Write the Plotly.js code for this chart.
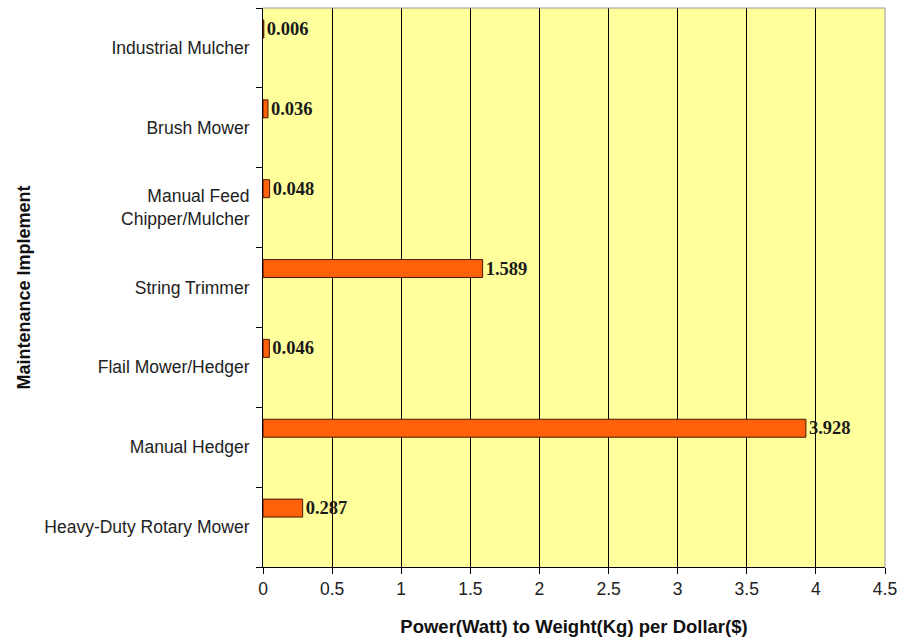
<!DOCTYPE html>
<html>
<head>
<meta charset="utf-8">
<script src="https://cdn.plot.ly/plotly-3.0.1.min.js"></script>
<style>html,body{margin:0;padding:0;background:#fff;}#chart{width:899px;height:637px;}</style>
</head>
<body>
<div id="chart"></div>
<script>
const categories = [
  "Heavy-Duty Rotary Mower",
  "Manual Hedger",
  "Flail Mower/Hedger",
  "String Trimmer",
  "Manual Feed<br>Chipper/Mulcher",
  "Brush Mower",
  "Industrial Mulcher"
];
const values = [0.287, 3.928, 0.046, 1.589, 0.048, 0.036, 0.006];
const labels = ["0.287", "3.928", "0.046", "1.589", "0.048", "0.036", "0.006"];
const xTicks = [0, 0.5, 1, 1.5, 2, 2.5, 3, 3.5, 4, 4.5];
const xTickText = ["0", "0.5", "1", "1.5", "2", "2.5", "3", "3.5", "4", "4.5"];

const trace = {
  type: "bar",
  orientation: "h",
  y: categories,
  x: values,
  text: labels,
  textposition: "outside",
  constraintext: "none",
  cliponaxis: false,
  textfont: {family: "Liberation Serif", size: 18.5, color: "#1a1a1a", weight: "bold"},
  width: 0.225,
  offset: 0.125,
  marker: {color: "#FF600A", line: {color: "#4a1800", width: 1}},
  hoverinfo: "none"
};

const layout = {
  width: 899,
  height: 637,
  margin: {l: 263, r: 14, t: 8, b: 70},
  paper_bgcolor: "#ffffff",
  plot_bgcolor: "#FFFF9C",
  showlegend: false,
  xaxis: {
    range: [0, 4.5],
    tickvals: xTicks,
    ticktext: xTickText,
    showgrid: true,
    gridcolor: "#000000",
    gridwidth: 1,
    zeroline: false,
    showline: true,
    linecolor: "#000000",
    linewidth: 1,
    ticks: "outside",
    ticklen: 6,
    tickcolor: "#000000",
    tickfont: {family: "Liberation Sans", size: 17.5, color: "#222"},
    title: {text: "Power(Watt) to Weight(Kg) per Dollar($)", font: {family: "Liberation Sans", size: 18.5, color: "#111", weight: "bold"}, standoff: 26},
    automargin: false,
    fixedrange: true
  },
  yaxis: {
    type: "category",
    categoryorder: "array",
    categoryarray: categories,
    range: [-0.5, 6.5],
    showgrid: false,
    zeroline: false,
    showline: true,
    linecolor: "#000000",
    linewidth: 1,
    ticks: "outside",
    tickson: "boundaries",
    ticklen: 6,
    tickcolor: "#000000",
    tickfont: {family: "Liberation Sans", size: 17.5, color: "#222"},
    ticklabelstandoff: 9,
    title: {text: "Maintenance Implement", font: {family: "Liberation Sans", size: 18, color: "#111", weight: "bold"}, standoff: 8},
    automargin: false,
    fixedrange: true
  },
  shapes: [
    {type: "line", xref: "paper", yref: "paper", x0: 0, x1: 1, y0: 1, y1: 1, line: {color: "#999", width: 1}},
    {type: "line", xref: "paper", yref: "paper", x0: 1, x1: 1, y0: 0, y1: 1, line: {color: "#999", width: 1}}
  ]
};

Plotly.newPlot("chart", [trace], layout, {displayModeBar: false, staticPlot: true});
</script>
</body>
</html>
